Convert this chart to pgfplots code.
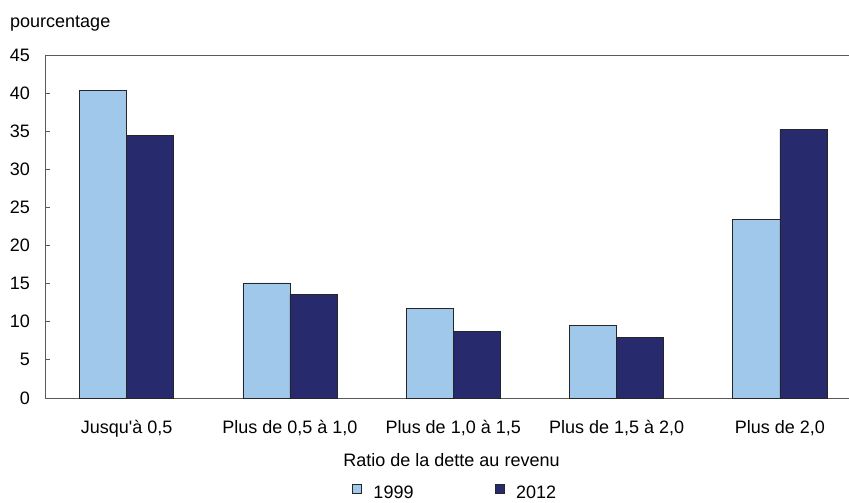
\documentclass[border=0pt]{standalone}
\usepackage{pgfplots}
\pgfplotsset{compat=1.18}
\usepackage{fontspec}
\setmainfont{Liberation Sans}
\definecolor{lightbar}{HTML}{A0C8EA}
\definecolor{navybar}{HTML}{282A6E}
\definecolor{axisgray}{HTML}{5A5A5A}
\newcommand{\chartfont}{\fontsize{18}{21}\selectfont}
\begin{document}
\begin{tikzpicture}[x=1pt,y=1pt]
\path[use as bounding box] (0,0) rectangle (849,-503);
\begin{axis}[
  at={(45pt,-398pt)}, anchor=south west,
  scale only axis, width=804pt, height=343pt,
  xmin=-0.5, xmax=4.423, ymin=0, ymax=45,
  axis x line=box, axis y line=left,
  axis line style={axisgray, line width=0.8pt, -},
  ybar=0pt, bar width=0.288,
  xtick={0,1,2,3,4},
  xticklabels={{Jusqu\textquotesingle à 0,5},{Plus de 0,5 à 1,0},{Plus de 1,0 à 1,5},{Plus de 1,5 à 2,0},{Plus de 2,0}},
  x tick style={draw=none},
  ytick={0,5,...,45},
  y tick style={axisgray, line width=0.8pt},
  major tick length=5pt, tick align=inside,
  yticklabel style={anchor=east, inner sep=0pt, xshift=-15pt, font=\chartfont},
  xticklabel style={anchor=base, inner sep=0pt, yshift=-35pt, font=\chartfont},
  /pgf/number format/assume math mode=true,
  legend columns=2,
  legend style={at={(0.510,-0.276)}, anchor=center, draw=none, font=\chartfont,
    /tikz/every odd column/.append style={column sep=10pt},
    /tikz/every even column/.append style={column sep=79pt}},
  legend image code/.code={\draw[#1, line width=0.6pt] (0pt,-1pt) rectangle (9pt,8pt);},
]
\addplot[fill=lightbar, draw=black!85, line width=0.8pt] coordinates {(0,40.4) (1,15.1) (2,11.8) (3,9.5) (4,23.4)};
\addlegendentry{1999}
\addplot[fill=navybar, draw=black!85, line width=0.8pt] coordinates {(0,34.5) (1,13.6) (2,8.7) (3,8.0) (4,35.2)};
\addlegendentry{2012}
\end{axis}
\node[anchor=base west, inner sep=0pt, font=\chartfont] at (10,-28) {pourcentage};
\node[anchor=base, inner sep=0pt, font=\chartfont] at (451.5,-466) {Ratio de la dette au revenu};
\end{tikzpicture}
\end{document}
